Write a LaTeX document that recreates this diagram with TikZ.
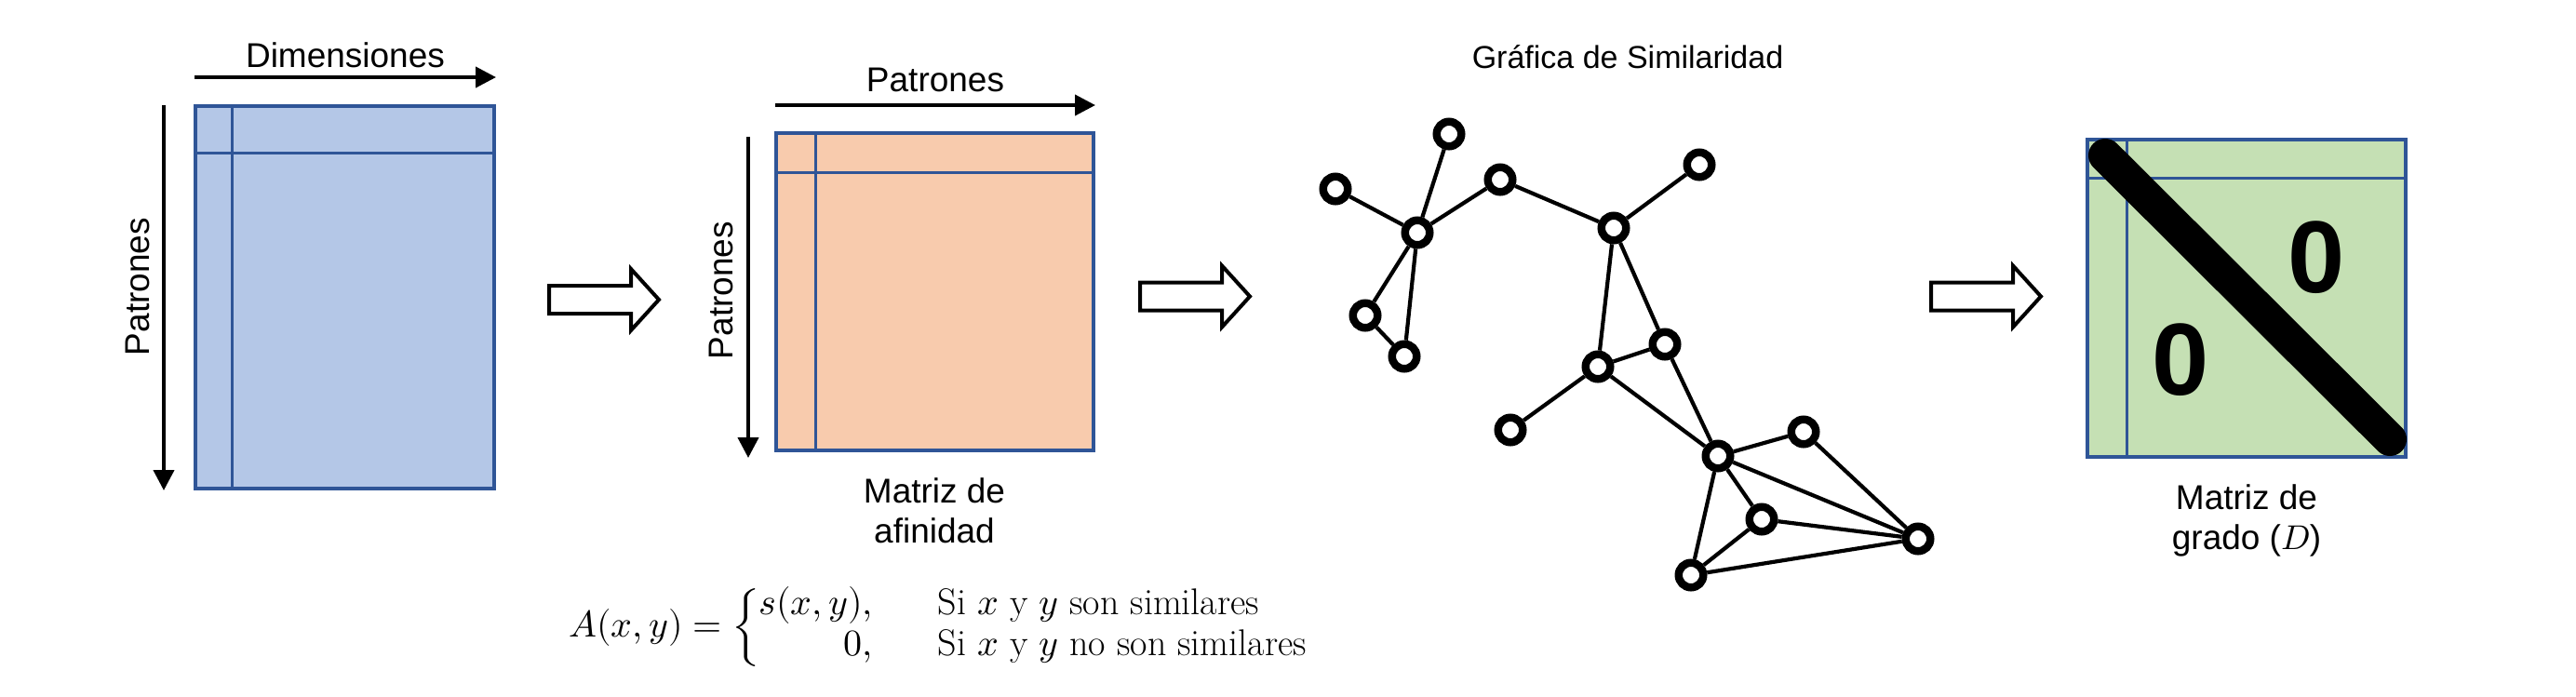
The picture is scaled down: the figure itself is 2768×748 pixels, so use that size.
\documentclass[tikz,border=0pt]{standalone}
\usepackage{fontspec}
\usepackage{amsmath}
\usepackage{unicode-math}
\setmathfont{Latin Modern Math}
\newfontfamily\arial{Liberation Sans}
\usetikzlibrary{arrows.meta}
\definecolor{mblue}{HTML}{B4C7E7}
\definecolor{morange}{HTML}{F8CBAD}
\definecolor{mgreen}{HTML}{C5E0B4}
\definecolor{mborder}{HTML}{2F5597}
\tikzset{
  lbl/.style={font=\arial\fontsize{37}{43}\selectfont, inner sep=0pt, align=center},
  matbox/.style={draw=mborder, line width=3.3pt},
  matline/.style={draw=mborder, line width=3pt},
  axisarrow/.style={line width=4pt, -{Triangle[length=22pt,width=22pt]}},
  gnode/.style={circle, draw, line width=8.5pt, fill=white, minimum size=26.5pt, inner sep=0pt},
  gedge/.style={line width=4.2pt},
  blockarrow/.style={draw, line width=4pt, line join=miter, fill=white},
  zero/.style={font=\arial\bfseries\fontsize{110}{120}\selectfont, inner sep=0pt}
}
\begin{document}
\begin{tikzpicture}[x=1pt, y=-1pt]
\useasboundingbox (0,0) rectangle (2768,748);

% ---------- Matrix 1 (blue) ----------
\path[fill=mblue] (210,114) rectangle (531,525);
\draw[matline] (249,114) -- (249,525);
\draw[matline] (210,164) -- (531,164);
\draw[matbox] (210,114) rectangle (531,525);
\coordinate (dimS) at (209,83);
\coordinate (dimE) at (533,83);
\draw[axisarrow] (dimS) -- (dimE);
\node[lbl, anchor=base] (dimlbl) at (371,72) {Dimensiones};
\coordinate (patS) at (176,113);
\coordinate (patE) at (176,527);
\draw[axisarrow] (patS) -- (patE);
\node[lbl, rotate=90, anchor=base] (patlbl) at (160,308) {Patrones};

% ---------- Matrix 2 (orange) ----------
\path[fill=morange] (834,143) rectangle (1175,484);
\draw[matline] (876,143) -- (876,484);
\draw[matline] (834,185) -- (1175,185);
\draw[matbox] (834,143) rectangle (1175,484);
\coordinate (pt2S) at (833,113);
\coordinate (pt2E) at (1177,113);
\draw[axisarrow] (pt2S) -- (pt2E);
\node[lbl, anchor=base] (pt2lbl) at (1005,98) {Patrones};
\coordinate (pv2S) at (804,147);
\coordinate (pv2E) at (804,492);
\draw[axisarrow] (pv2S) -- (pv2E);
\node[lbl, rotate=90, anchor=base] (pv2lbl) at (787,312) {Patrones};
\node[lbl, anchor=north] (afin) at (1004,513) {Matriz de\\afinidad};

% ---------- formula ----------
\node[anchor=base west, inner sep=0pt, font=\fontsize{40}{44}\selectfont] (formula) at (611,684)
 {$A(x,y)=\left\{\begin{array}{@{}r@{\hspace{70pt}}l@{}}
   s(x,y), & \text{Si } x \text{ y } y \text{ son similares}\\
   0, & \text{Si } x \text{ y } y \text{ no son similares}
 \end{array}\right.$};

% ---------- block arrows ----------
\foreach \xo/\yc in {588/322, 1223/318.5, 2073/318.5} {
  \draw[blockarrow] (\xo+2,\yc-15) -- (\xo+90,\yc-15) -- (\xo+90,\yc-33)
    -- (\xo+120,\yc) -- (\xo+90,\yc+33) -- (\xo+90,\yc+15) -- (\xo+2,\yc+15) -- cycle;
}

% ---------- graph ----------
\node[lbl, font=\arial\fontsize{34}{40}\selectfont, anchor=base] (gtitle) at (1749,73) {Gráfica de Similaridad};
\node[gnode] (n1) at (1557,144) {};
\node[gnode] (n2) at (1435,203) {};
\node[gnode] (n3) at (1612,193) {};
\node[gnode] (n4) at (1826,177) {};
\node[gnode] (n5) at (1523,250) {};
\node[gnode] (n6) at (1734,245) {};
\node[gnode] (n7) at (1467,339) {};
\node[gnode] (n8) at (1509,383) {};
\node[gnode] (n9) at (1789,370) {};
\node[gnode] (n10) at (1717,394) {};
\node[gnode] (n11) at (1623,462) {};
\node[gnode] (n12) at (1938,464) {};
\node[gnode] (n13) at (1846,490) {};
\node[gnode] (n14) at (1893,558) {};
\node[gnode] (n15) at (2061,579) {};
\node[gnode] (n16) at (1817,618) {};
\foreach \a/\b in {n2/n5, n1/n5, n5/n3, n3/n6, n6/n4, n5/n7, n5/n8, n7/n8,
  n6/n10, n6/n9, n9/n10, n10/n11, n10/n13, n9/n13, n13/n12, n12/n15,
  n13/n15, n13/n14, n13/n16, n14/n15, n14/n16, n16/n15} {
  \draw[gedge] (\a) -- (\b);
}

% ---------- Matrix 3 (green) ----------
\path[fill=mgreen] (2243,150) rectangle (2585,491);
\draw[matline] (2285,150) -- (2285,491);
\draw[matline] (2243,191) -- (2585,191);
\draw[matbox] (2243,150) rectangle (2585,491);
\coordinate (dA) at (2262,167);
\coordinate (dB) at (2568,472);
\draw[line width=36pt, line cap=round] (dA) -- (dB);
\node[zero] (z1) at (2489,277) {0};
\node[zero] (z2) at (2343,387) {0};
\node[lbl, anchor=north] (grado) at (2414,520) {Matriz de\\grado ($D$)};
\end{tikzpicture}
\end{document}
